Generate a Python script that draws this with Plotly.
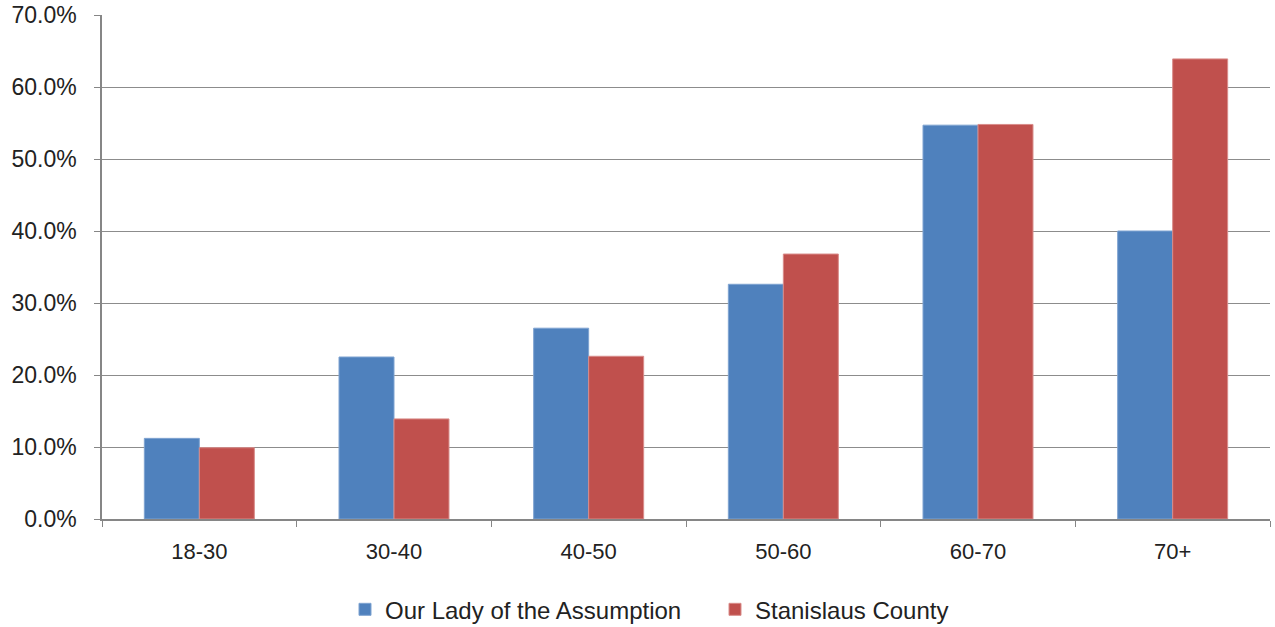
import plotly.graph_objects as go

categories = ["18-30", "30-40", "40-50", "50-60", "60-70", "70+"]
our_lady = [0.112, 0.225, 0.265, 0.326, 0.547, 0.400]
stanislaus = [0.099, 0.139, 0.226, 0.368, 0.548, 0.639]
tick_vals = [0, 0.1, 0.2, 0.3, 0.4, 0.5, 0.6, 0.7]

fig = go.Figure()
fig.add_trace(go.Bar(x=categories, y=our_lady, name="Our Lady of the Assumption",
                     marker=dict(color="#4F81BD", line=dict(color="#7FA3D1", width=1))))
fig.add_trace(go.Bar(x=categories, y=stanislaus, name="Stanislaus County",
                     marker=dict(color="#C0504D", line=dict(color="#D98C8A", width=1))))

font_family = "Liberation Sans, Arial, sans-serif"
fig.update_layout(
    width=1275, height=627,
    margin=dict(l=102, r=5, t=15, b=108, autoexpand=False),
    paper_bgcolor="white", plot_bgcolor="white",
    barmode="group", bargap=0.435, bargroupgap=0,
    font=dict(family=font_family, size=20, color="#222222"),
    legend=dict(orientation="h", x=(345 - 102) / 1168, xanchor="left", y=-0.18, yanchor="middle",
                font=dict(size=24), itemwidth=30, entrywidth=325, entrywidthmode="pixels",
                traceorder="normal"),
    showlegend=True,
)
fig.update_xaxes(type="category", showline=True, linecolor="#868686", linewidth=1.5,
                 ticks="outside", tickson="boundaries", ticklen=6, tickcolor="#868686",
                 tickfont=dict(size=22), showgrid=False, automargin=False,
                 ticklabelstandoff=12)
fig.update_yaxes(range=[0, 0.7], tickvals=tick_vals, tickformat=".1%",
                 showline=True, linecolor="#868686", linewidth=1.5,
                 ticks="outside", ticklen=6, tickcolor="#868686",
                 gridcolor="#8C8C8C", gridwidth=1.2, zeroline=False,
                 tickfont=dict(size=23), automargin=False, ticklabelstandoff=13)
fig.write_html("out.html", config={"displayModeBar": False},
               post_script="document.body.style.margin='0px';document.body.style.overflow='hidden';")
